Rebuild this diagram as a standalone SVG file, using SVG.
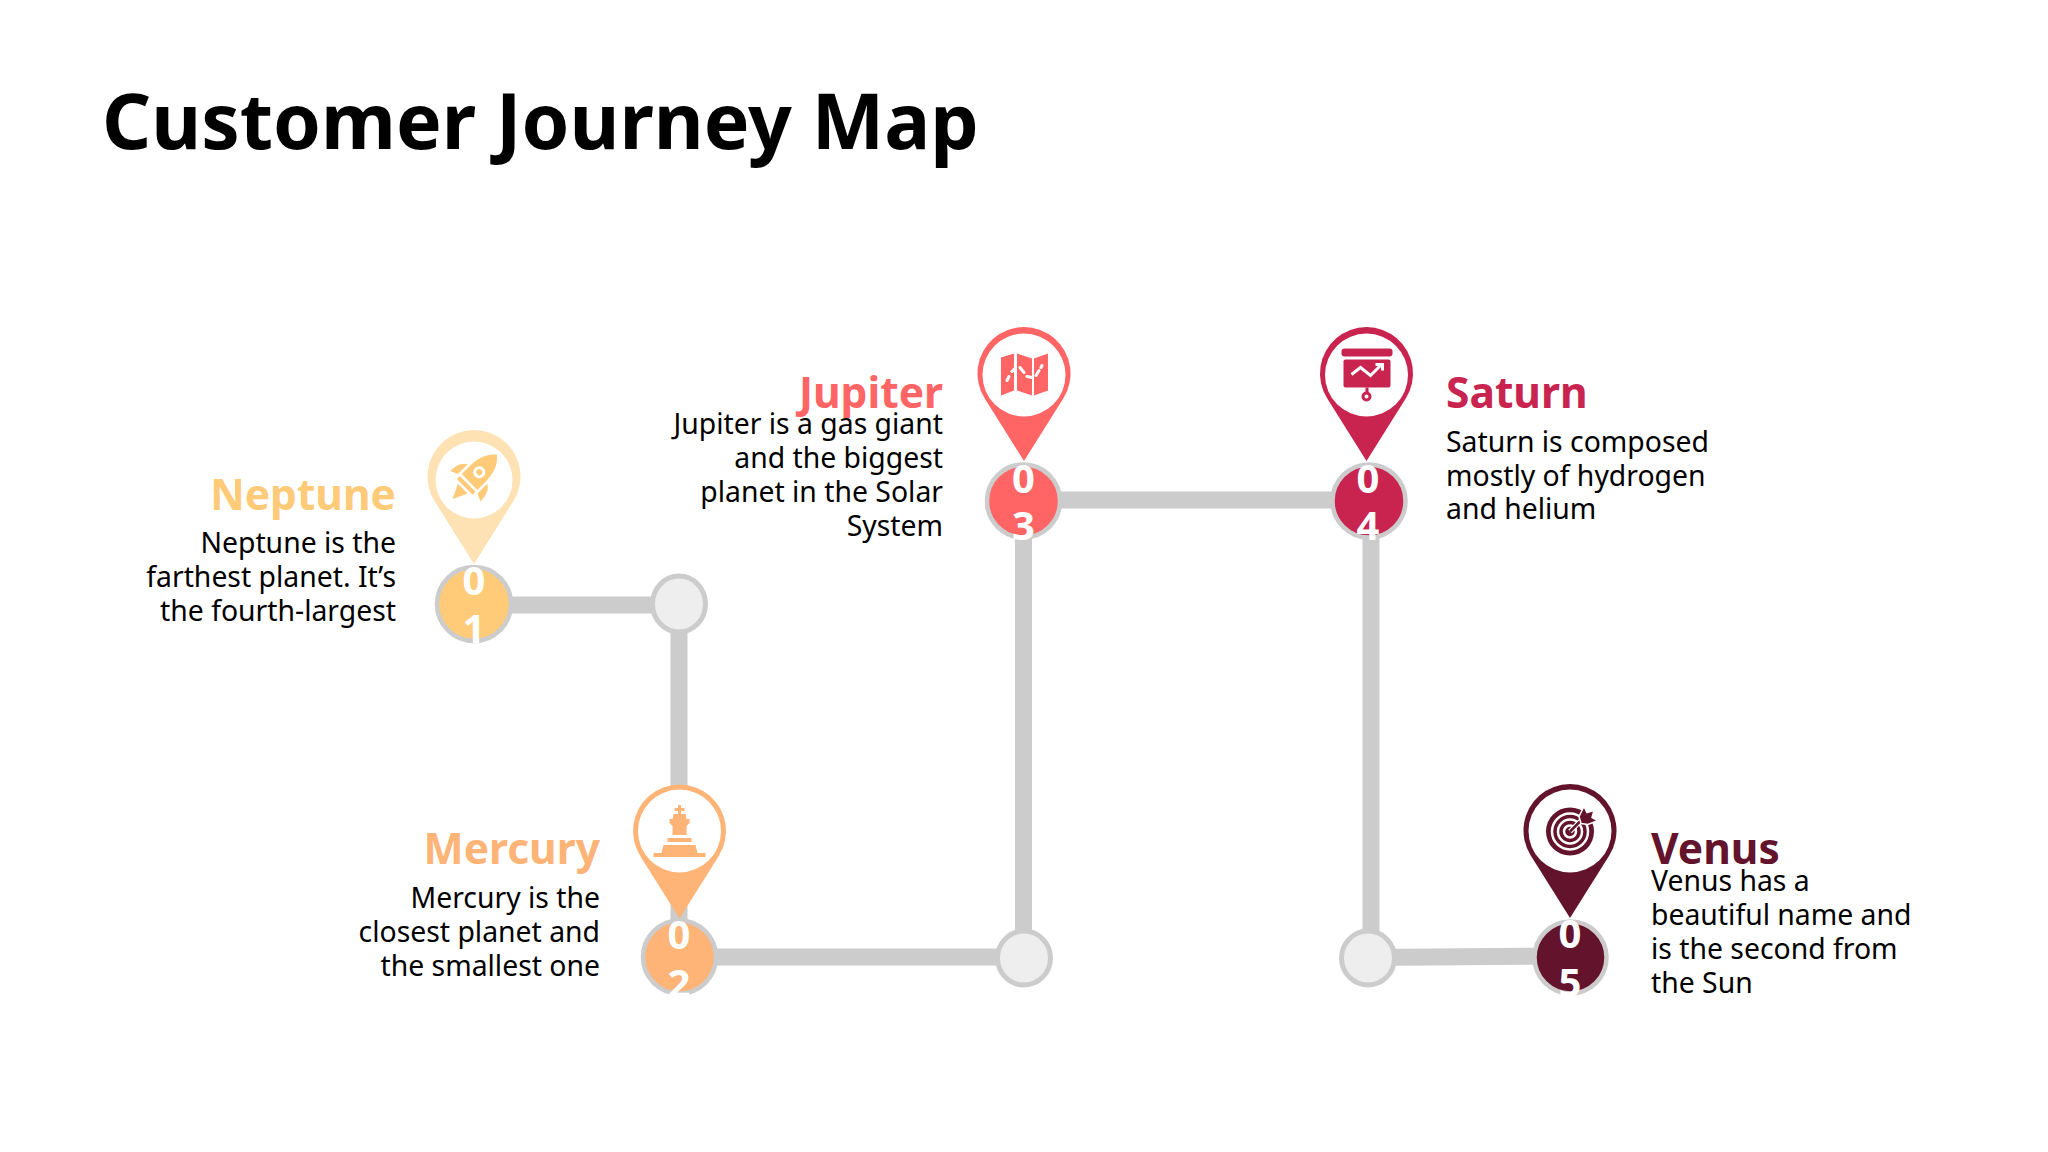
<svg xmlns="http://www.w3.org/2000/svg" width="2048" height="1152" viewBox="0 0 2048 1152">
<style>
text{font-family:"Noto Sans","Open Sans","DejaVu Sans",sans-serif}
.title{font-size:76.800px;font-weight:700;fill:#000}
.h{font-size:42.500px;font-weight:700}
.b{font-size:28.350px;fill:#000}
.r{text-anchor:end}
.n{font-size:40px;font-weight:700;fill:#fff;text-anchor:middle}
.w{fill:#eee;stroke:#ccc;stroke-width:5}
.l{stroke:#ccc;stroke-width:17;fill:none}
.ring{stroke:#ccc;stroke-width:4.5}
.c1{fill:#ffcb78}.c2{fill:#ffb477}.c3{fill:#ff6565}.c4{fill:#c8244f}.c5{fill:#63132b}
</style>
<defs>
<path id="pin" d="M0,87.5 L-39.4,24.7 A46.5,46.5 0 1 1 39.4,24.7 Z"/>
</defs>
<rect width="2048" height="1152" fill="#fff"/>
<text class="title" x="102" y="149">Customer Journey Map</text>
<g id="connectors">
<path class="l" d="M474,605 H679 V957 H1023.500 V501"/>
<path class="l" d="M1023,500 H1371 V958"/>
<path class="l" d="M1367,957.500 L1570,956"/>
<ellipse class="w" cx="679" cy="604" rx="26.500" ry="28"/>
<ellipse class="w" cx="1024" cy="958" rx="26.500" ry="27"/>
<ellipse class="w" cx="1368" cy="958" rx="26.500" ry="27"/>
</g>
<g id="node-neptune">
<g transform="translate(474,476.500)"><use href="#pin" fill="#fee2b4"/><circle cx="0" cy="3.500" r="38.500" fill="#fff"/>
<g class="c1" transform="translate(1,0) rotate(45) scale(.86)"><path d="M0,-36 C10,-28 13,-16 13,-4 V9 H-13 V-4 C-13,-16 -10,-28 0,-36Z"/><rect x="-13" y="12" width="26" height="5"/><path d="M-8,20 H8 L0,37Z"/><path d="M-16,-4 V12 L-25,16 C-25,6 -22,-1 -16,-4Z"/><path d="M16,-4 V12 L25,16 C25,6 22,-1 16,-4Z"/><circle cy="-7" r="7" fill="#fff"/><circle cy="-7" r="3.500"/></g></g>
<circle class="ring c1" cx="474" cy="604" r="37"/>
<text class="n" x="474" y="595">0</text><text class="n" x="474" y="643">1</text>
<text class="h r c1" x="396" y="510">Neptune</text>
<text class="b r" x="396" y="553">Neptune is the</text><text class="b r" x="396" y="587">farthest planet. It’s</text><text class="b r" x="396" y="621">the fourth-largest</text>
</g>
<g id="node-mercury">
<g transform="translate(679.500,831)"><use href="#pin" class="c2"/><circle r="41.500" fill="#fff"/>
<g class="c2"><path d="M-1.500,-26 H1.500 V-23 H5 V-20 H1.500 V-17 H6 L7,-12 H10 V-8 L7,-5 V4 H-7 V-5 L-10,-8 V-12 H-7 L-6,-17 H-1.500 V-20 H-5 V-23 H-1.500Z"/><rect x="-12" y="7" width="24" height="4"/><path d="M-16,14 H16 L18,22 H26 V26 H-26 V22 H-18Z"/></g></g>
<circle class="ring c2" cx="679.500" cy="957" r="36.500"/>
<text class="n" x="679" y="949">0</text><text class="n" x="679" y="998">2</text>
<text class="h r c2" x="600" y="864">Mercury</text>
<text class="b r" x="600" y="908">Mercury is the</text><text class="b r" x="600" y="942">closest planet and</text><text class="b r" x="600" y="976">the smallest one</text>
</g>
<g id="node-jupiter">
<g transform="translate(1024,373.500)"><use href="#pin" class="c3"/><circle cy="1.500" r="41.500" fill="#fff"/>
<g class="c3"><path d="M-23,-16 L-10,-20 V17 L-23,22Z"/><path d="M-7,-20 L8,-15 V22 L-7,17Z"/><path d="M10,-15 L24,-20 V17 L10,22Z"/></g>
<path d="M-17,7 L-15,3 M-12,-2 L-9,-5 M-4,-6 L0,-1 M3,3 L8,4 M12,2 L15,-3 M17,-6 L18,-8" stroke="#fff" stroke-width="3" stroke-linecap="round" fill="none"/></g>
<circle class="ring c3" cx="1023.500" cy="501" r="36.500"/>
<text class="n" x="1023.500" y="493">0</text><text class="n" x="1023.500" y="540">3</text>
<text class="h r c3" x="943" y="408">Jupiter</text>
<text class="b r" x="943" y="434">Jupiter is a gas giant</text><text class="b r" x="943" y="468">and the biggest</text><text class="b r" x="943" y="502">planet in the Solar</text><text class="b r" x="943" y="536">System</text>
</g>
<g id="node-saturn">
<g transform="translate(1366.500,373.500)"><use href="#pin" class="c4"/><circle cy="1.500" r="41.500" fill="#fff"/>
<g class="c4"><rect x="-25" y="-25" width="51" height="8" rx="3"/><rect x="-23" y="-14" width="47" height="28" rx="2"/><rect x="-1" y="14" width="3" height="5"/><circle cy="23" r="3.500" fill="none" stroke="#c8244f" stroke-width="3"/></g>
<path d="M-15,1 L-6,-6 L4,2 L15,-9 M9,-9 H16 V-3" stroke="#fff" stroke-width="3" fill="none"/></g>
<circle class="ring c4" cx="1369" cy="501" r="36.500"/>
<text class="n" x="1368" y="493">0</text><text class="n" x="1368" y="540">4</text>
<text class="h c4" x="1446" y="408">Saturn</text>
<text class="b" x="1446" y="452">Saturn is composed</text><text class="b" x="1446" y="485.500">mostly of hydrogen</text><text class="b" x="1446" y="519">and helium</text>
</g>
<g id="node-venus">
<g transform="translate(1570,830.500)"><use href="#pin" class="c5"/><circle cy="0.500" r="41.500" fill="#fff"/>
<circle cy="1" r="24" class="c5"/><circle cy="1" r="18" fill="none" stroke="#fff" stroke-width="2.500"/><circle cy="1" r="12" fill="none" stroke="#fff" stroke-width="2.500"/><circle cy="1" r="6" fill="none" stroke="#fff" stroke-width="2.500"/>
<path d="M0,1 L12,-11" stroke="#fff" stroke-width="5"/><path d="M0,1 L12,-11" stroke="#63132b" stroke-width="2.500"/>
<path fill="#fff" d="M8,-23 H27 V-5 H8Z" opacity="0"/>
<path class="c5" stroke="#fff" stroke-width="1.500" d="M9,-14 L14,-24 L17,-18 L24,-20 L22,-13 L28,-10 L18,-6 L11,-7Z"/></g>
<circle class="ring c5" cx="1570.500" cy="957.500" r="36"/>
<text class="n" x="1570" y="948">0</text><text class="n" x="1570" y="997">5</text>
<text class="h c5" x="1651" y="864">Venus</text>
<text class="b" x="1651" y="891">Venus has a</text><text class="b" x="1651" y="925">beautiful name and</text><text class="b" x="1651" y="959">is the second from</text><text class="b" x="1651" y="993">the Sun</text>
</g>
</svg>
